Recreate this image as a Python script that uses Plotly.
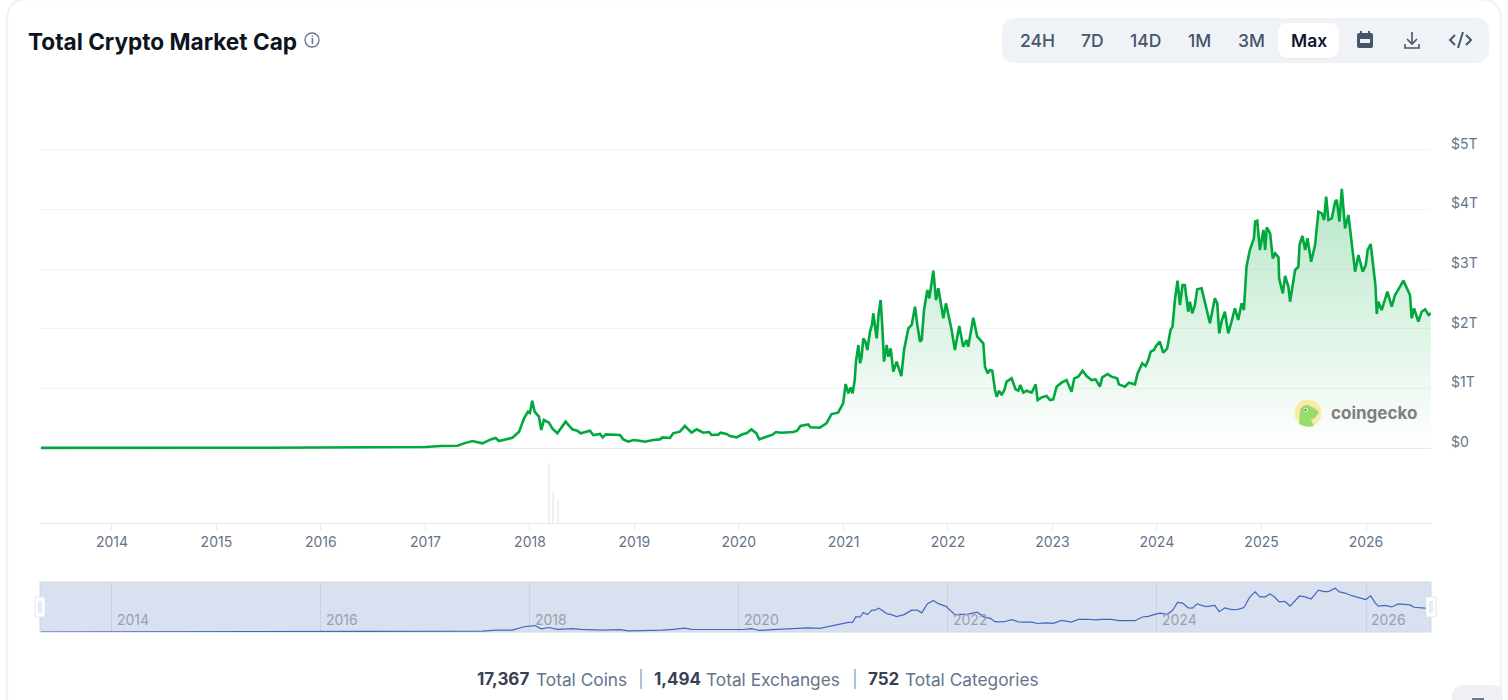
import pandas as pd
import plotly.graph_objects as go

W = 1508
H = 700

# market cap in trillions of USD (x as decimal years)
years_to_2018 = [2013.32, 2013.6, 2013.9, 2014.0, 2014.5, 2015.0, 2015.5, 2016.0, 2016.5, 2017.0,
    2017.145, 2017.305, 2017.368, 2017.448, 2017.544, 2017.624, 2017.671, 2017.703, 2017.831, 2017.895,
    2017.943, 2017.981, 2018.0, 2018.022, 2018.045, 2018.086, 2018.108, 2018.134, 2018.182, 2018.214,
    2018.262, 2018.341, 2018.405, 2018.453, 2018.485]
values_to_2018 = [0.002, 0.003, 0.012, 0.011, 0.008, 0.005, 0.005, 0.007, 0.01, 0.018,
    0.034, 0.039, 0.078, 0.117, 0.078, 0.145, 0.168, 0.117, 0.173, 0.274,
    0.498, 0.61, 0.59, 0.794, 0.61, 0.526, 0.302, 0.47, 0.425, 0.33,
    0.246, 0.442, 0.313, 0.291, 0.246]

years_to_2020 = [2018.574, 2018.606, 2018.67, 2018.695, 2018.727, 2018.861, 2018.893, 2018.941, 2018.989, 2019.052,
    2019.1, 2019.18, 2019.244, 2019.269, 2019.34, 2019.371, 2019.435, 2019.483, 2019.515, 2019.547,
    2019.595, 2019.659, 2019.716, 2019.738, 2019.802, 2019.824, 2019.882, 2019.914, 2019.977, 2020.041,
    2020.073, 2020.121, 2020.169, 2020.195, 2020.265, 2020.322, 2020.354, 2020.408, 2020.52, 2020.558,
    2020.59, 2020.663, 2020.686, 2020.775, 2020.838, 2020.887, 2020.95]
values_to_2020 = [0.291, 0.218, 0.235, 0.179, 0.229, 0.218, 0.145, 0.106, 0.134, 0.123,
    0.106, 0.134, 0.145, 0.179, 0.168, 0.246, 0.274, 0.369, 0.313, 0.257,
    0.313, 0.257, 0.268, 0.218, 0.224, 0.257, 0.235, 0.201, 0.179, 0.235,
    0.246, 0.313, 0.246, 0.145, 0.19, 0.224, 0.268, 0.257, 0.268, 0.291,
    0.369, 0.397, 0.347, 0.341, 0.414, 0.57, 0.593]

years_to_2022 = [2020.998, 2021.02, 2021.046, 2021.068, 2021.087, 2021.107, 2021.119, 2021.142,
    2021.158, 2021.173, 2021.189, 2021.209, 2021.228, 2021.253, 2021.272, 2021.285, 2021.301, 2021.317,
    2021.336, 2021.355, 2021.371, 2021.387, 2021.413, 2021.429, 2021.451, 2021.476, 2021.508, 2021.553,
    2021.579, 2021.62, 2021.652, 2021.684, 2021.706, 2021.732, 2021.748, 2021.77, 2021.802, 2021.821,
    2021.859, 2021.885, 2021.907, 2021.955, 2021.98, 2022.035, 2022.066, 2022.108, 2022.146, 2022.178,
    2022.194, 2022.242, 2022.28, 2022.338]
values_to_2022 = [0.749, 1.074, 0.917, 1.018, 0.917, 1.141, 1.449, 1.728,
    1.421, 1.532, 1.84, 1.784, 1.644, 1.952, 2.064, 2.26, 2.064, 1.84,
    2.26, 2.483, 2.036, 1.449, 1.728, 1.532, 1.672, 1.281, 1.449, 1.208,
    1.644, 2.008, 2.064, 2.371, 2.064, 1.784, 1.812, 2.315, 2.651, 2.511,
    2.975, 2.483, 2.679, 2.176, 2.427, 1.98, 1.644, 2.047, 1.7, 1.812,
    1.7, 2.187, 1.868, 1.756]

years_to_2023 = [2022.354, 2022.38, 2022.402, 2022.424, 2022.45, 2022.466, 2022.488, 2022.513, 2022.539, 2022.561,
    2022.609, 2022.647, 2022.673, 2022.692, 2022.721, 2022.753, 2022.801, 2022.839, 2022.858, 2022.896,
    2022.944, 2022.976, 2023.008, 2023.04, 2023.088, 2023.135, 2023.183, 2023.209, 2023.247, 2023.289,
    2023.327, 2023.375, 2023.413, 2023.454, 2023.477, 2023.528, 2023.566, 2023.62, 2023.636, 2023.694,
    2023.732, 2023.758, 2023.79, 2023.815, 2023.86, 2023.892, 2023.917, 2023.94]
values_to_2023 = [1.365, 1.253, 1.309, 1.298, 0.973, 0.861, 0.962, 0.889, 0.973, 1.113,
    1.169, 0.984, 0.962, 1.057, 0.928, 0.962, 0.928, 1.068, 0.805, 0.85,
    0.872, 0.805, 0.817, 1.029, 1.096, 1.141, 0.945, 1.169, 1.197, 1.298,
    1.208, 1.141, 1.152, 1.029, 1.186, 1.242, 1.197, 1.169, 1.068, 1.029,
    1.096, 1.085, 1.068, 1.253, 1.421, 1.376, 1.476, 1.616]

years_to_2026 = [2023.972, 2023.991, 2024.029, 2024.061, 2024.099, 2024.131, 2024.15, 2024.173, 2024.198,
    2024.221, 2024.246, 2024.268, 2024.3, 2024.316, 2024.339, 2024.364, 2024.386, 2024.428, 2024.469,
    2024.508, 2024.555, 2024.578, 2024.597, 2024.619, 2024.651, 2024.683, 2024.715, 2024.747, 2024.779,
    2024.811, 2024.833, 2024.858, 2024.89, 2024.929, 2024.941, 2024.961, 2024.986, 2025.018, 2025.034,
    2025.05, 2025.082, 2025.107, 2025.13, 2025.162, 2025.168, 2025.203, 2025.225, 2025.257, 2025.273,
    2025.299, 2025.321, 2025.353, 2025.363, 2025.391, 2025.417, 2025.439, 2025.474, 2025.512, 2025.544,
    2025.576, 2025.599, 2025.618, 2025.64, 2025.672, 2025.704, 2025.72, 2025.745, 2025.768, 2025.799,
    2025.831, 2025.863, 2025.895, 2025.927, 2025.968, 2025.997, 2026.016, 2026.045, 2026.071, 2026.09,
    2026.103, 2026.118, 2026.15, 2026.182, 2026.205, 2026.246, 2026.278, 2026.31, 2026.358, 2026.421,
    2026.437, 2026.46, 2026.501, 2026.533, 2026.565, 2026.6, 2026.62]
values_to_2026 = [1.644, 1.711, 1.784, 1.6, 1.672, 1.98, 2.036, 2.483, 2.808,
    2.399, 2.735, 2.735, 2.287, 2.455, 2.26, 2.399, 2.662, 2.679, 2.399,
    2.092, 2.511, 2.427, 1.924, 2.12, 2.287, 1.924, 2.12, 2.343, 2.148,
    2.427, 2.315, 3.043, 3.322, 3.518, 3.797, 3.814, 3.322, 3.658, 3.322,
    3.702, 3.602, 3.182, 3.266, 3.199, 2.847, 2.595, 2.886, 2.707, 2.455,
    2.735, 2.987, 3.043, 3.406, 3.557, 3.322, 3.518, 3.126, 3.406, 3.965,
    3.937, 3.826, 4.217, 3.826, 3.853, 4.133, 4.161, 3.797, 4.346, 3.686,
    3.909, 3.434, 2.959, 3.238, 2.959, 3.07, 3.322, 3.423, 3.07, 2.735,
    2.248, 2.455, 2.315, 2.511, 2.623, 2.371, 2.567, 2.662, 2.808, 2.567,
    2.176, 2.343, 2.12, 2.287, 2.327, 2.232, 2.26]

cap_years = years_to_2018 + years_to_2020 + years_to_2022 + years_to_2023 + years_to_2026
cap_values = values_to_2018 + values_to_2020 + values_to_2022 + values_to_2023 + values_to_2026

# the three faint volume spikes under the chart (relative height)
volume_dates = ["2018-03-10", "2018-03-22", "2018-04-08"]
volume_values = [1.0, 0.52, 0.38]

y_ticks = [0, 1, 2, 3, 4, 5]
y_labels = ["$0", "$1T", "$2T", "$3T", "$4T", "$5T"]
nav_years = [2014, 2016, 2018, 2020, 2022, 2024, 2026]

range_labels = ["24H", "7D", "14D", "1M", "3M", "Max"]
range_x = [1037, 1092, 1145, 1199, 1251, 1309]

stat_values = ["17,367", "1,494", "752"]
stat_names = ["Total Coins", "Total Exchanges", "Total Categories"]
stat_value_x = [476, 653, 867]
stat_name_x = [535, 705, 904]
stat_rule_x = [641, 855]
stat_rule_colors = ["#7f9dc4", "#7f9dc4"]

FONT = "Inter"
SLATE = "#64748b"


def year_to_date(y):
    yr = int(y)
    return pd.Timestamp(yr, 1, 1) + pd.Timedelta(days=(y - yr) * 365.25)


def px_x(x):
    return x / W


def px_y(y):
    return 1 - y / H


def pt(x, y):
    return f"{px_x(x):.5f},{px_y(y):.5f}"


def round_rect(x0, y0, x1, y1, r):
    return (f"M{pt(x0 + r, y0)} L{pt(x1 - r, y0)} Q{pt(x1, y0)} {pt(x1, y0 + r)} "
            f"L{pt(x1, y1 - r)} Q{pt(x1, y1)} {pt(x1 - r, y1)} L{pt(x0 + r, y1)} "
            f"Q{pt(x0, y1)} {pt(x0, y1 - r)} L{pt(x0, y0 + r)} Q{pt(x0, y0)} {pt(x0 + r, y0)} Z")


def box(x0, y0, x1, y1, r, fill, line=None, width=1):
    return dict(type="path", xref="paper", yref="paper", path=round_rect(x0, y0, x1, y1, r),
                fillcolor=fill, line=dict(color=line or fill, width=width if line else 0))


def stroke(points, color, width=2):
    d = "M" + " L".join(pt(x, y) for x, y in points)
    return dict(type="path", xref="paper", yref="paper", path=d, line=dict(color=color, width=width))


def circle(cx, cy, r, fill, line=None, width=1):
    return dict(type="circle", xref="paper", yref="paper", x0=px_x(cx - r), x1=px_x(cx + r),
                y0=px_y(cy + r), y1=px_y(cy - r), fillcolor=fill,
                line=dict(color=line or fill, width=width if line else 0))


def text(x, y, s, size, color, anchor="left", weight=400, family=FONT):
    return dict(xref="paper", yref="paper", x=px_x(x), y=px_y(y), text=s, showarrow=False,
                xanchor=anchor, yanchor="middle", borderpad=0,
                font=dict(family=family, size=size, color=color, weight=weight))


cap_dates = [year_to_date(y) for y in cap_years]
x_range = [year_to_date(2013.311), year_to_date(2026.622)]

fig = go.Figure()

# price line with gradient fill
fig.add_trace(go.Scatter(x=cap_dates, y=cap_values, xaxis="x", yaxis="y", mode="lines",
                         line=dict(color="#00a83e", width=2.6), fill="tozeroy",
                         fillgradient=dict(type="vertical",
                                           colorscale=[[0, "rgba(0,168,62,0)"], [1, "rgba(0,168,62,0.28)"]]),
                         hoverinfo="skip", showlegend=False))

# volume spikes
fig.add_trace(go.Bar(x=pd.to_datetime(volume_dates), y=volume_values, xaxis="x", yaxis="y3",
                     marker=dict(color="#eef0f4", line=dict(width=0)), width=1000 * 3600 * 24 * 3,
                     hoverinfo="skip", showlegend=False))

# navigator
fig.add_trace(go.Scatter(x=cap_dates[::2], y=cap_values[::2], xaxis="x2", yaxis="y2", mode="lines",
                         line=dict(color="#4468bd", width=1.2), hoverinfo="skip", showlegend=False))

shapes = []
# card outline
shapes.append(dict(type="path", xref="paper", yref="paper", line=dict(color="#f0f3f7", width=2.5),
                   path=f"M{pt(7, 700)} L{pt(7, 20)} Q{pt(7, -1)} {pt(28, -1)} L{pt(1480, -1)} "
                        f"Q{pt(1501, -1)} {pt(1501, 20)} L{pt(1501, 700)}"))
# navigator background
shapes.append(dict(type="rect", xref="x2 domain", yref="y2 domain", x0=0, x1=1, y0=0, y1=1,
                   fillcolor="#d9e0ef", line=dict(color="#cfd7e6", width=1), layer="below"))
# navigator handles
for hx in [40, 1431]:
    shapes.append(box(hx - 5, 597, hx + 5, 617, 1, "#ffffff", "#dfe5ee", 1))
    shapes.append(stroke([(hx - 1, 601), (hx - 1, 613)], "#cfd7e6", 1))
    shapes.append(stroke([(hx + 1, 601), (hx + 1, 613)], "#cfd7e6", 1))
# toolbar
shapes.append(box(1002, 18, 1489, 63, 14, "#eff2f7"))
shapes.append(box(1278, 24, 1339, 59, 10, "#e6e9ef"))
shapes.append(box(1278, 23, 1339, 58, 10, "#ffffff"))
# calendar icon
shapes.append(box(1357, 33, 1373, 48, 2, "#475569"))
shapes.append(stroke([(1361, 31), (1361, 35)], "#475569", 2))
shapes.append(stroke([(1369, 31), (1369, 35)], "#475569", 2))
shapes.append(box(1360, 39, 1370, 43, 0, "#eff2f7"))
# download icon
shapes.append(stroke([(1412, 32), (1412, 44)], "#475569", 1.6))
shapes.append(stroke([(1407, 39), (1412, 44), (1417, 39)], "#475569", 1.6))
shapes.append(stroke([(1405, 44), (1405, 48), (1419, 48), (1419, 44)], "#475569", 1.6))
# code icon
shapes.append(stroke([(1455, 35), (1450, 40), (1455, 45)], "#475569", 2))
shapes.append(stroke([(1466, 35), (1471, 40), (1466, 45)], "#475569", 2))
shapes.append(stroke([(1463, 32), (1458, 48)], "#475569", 2))
# info icon
shapes.append(circle(312, 40, 7, "#ffffff", "#64748b", 1.3))
# gecko logo
shapes.append(circle(1308, 413, 13.5, "#fbeaa8"))
shapes.append(dict(type="path", xref="paper", yref="paper", fillcolor="#96dd6b", line=dict(width=0),
                   path=f"M{pt(1299, 424)} L{pt(1300, 410)} Q{pt(1302, 405)} {pt(1308, 405)} "
                        f"L{pt(1314, 408)} L{pt(1319, 412)} Q{pt(1317, 417)} {pt(1311, 420)} "
                        f"L{pt(1314, 426)} Q{pt(1306, 428)} {pt(1299, 424)} Z"))
shapes.append(circle(1306, 410, 2, "#e8eee0"))
shapes.append(circle(1305.5, 410, 1, "#5a6a50"))
# footer rules and corner button
for rx, rc in zip(stat_rule_x, stat_rule_colors):
    shapes.append(stroke([(rx, 669), (rx, 689)], rc, 1.3))
shapes.append(box(1452, 685, 1503, 715, 12, "#eef0f3"))
shapes.append(stroke([(1472, 699), (1484, 699)], "#475569", 1.5))

notes = [text(27, 41, "Total Crypto Market Cap", 22.6, "#0d1421", weight=700),
         text(312, 40, "i", 10, "#64748b", "center", 700),
         text(1330, 413, "coingecko", 17, "#7d8080", weight=700)]
for lab, lx in zip(range_labels, range_x):
    if lab == "Max":
        notes.append(text(lx, 40, lab, 17.5, "#0f172a", "center", 600))
    else:
        notes.append(text(lx, 40, lab, 17.5, "#475569", "center", 500))
for v, vx, n, nx in zip(stat_values, stat_value_x, stat_names, stat_name_x):
    notes.append(text(vx, 679, v, 17, "#364152", weight=700))
    notes.append(text(nx, 679, n, 17.3, "#64748b"))
for yr in nav_years:
    notes.append(dict(xref="x2", yref="y2 domain", x=pd.Timestamp(yr, 1, 1), y=0.05, text=str(yr),
                      showarrow=False, xanchor="left", yanchor="bottom", xshift=3,
                      font=dict(family=FONT, size=14, color="#9a9fad")))

fig.update_layout(
    width=W,
    height=H,
    margin=dict(l=0, r=0, t=0, b=0),
    paper_bgcolor="#ffffff",
    plot_bgcolor="#ffffff",
    font=dict(family=FONT),
    showlegend=False,
    shapes=shapes,
    annotations=notes,
    xaxis=dict(domain=[px_x(40), px_x(1431)], range=x_range, anchor="y3", type="date",
               dtick="M12", tick0="2014-01-01", tickformat="%Y", showgrid=False, showline=True,
               linecolor="#e3e8ef", ticks="outside", ticklen=6, tickcolor="#e3e8ef", automargin=False,
               tickfont=dict(family=FONT, size=14, color=SLATE)),
    yaxis=dict(domain=[px_y(451), px_y(147)], range=[-0.05, 5.05], anchor="x", side="right",
               tickvals=y_ticks, ticktext=y_labels, showgrid=True, gridcolor="#f2f4f6", gridwidth=1,
               zeroline=True, zerolinecolor="#e6ebf1", zerolinewidth=1, showline=False, automargin=False,
               ticklabelstandoff=19, ticklabelshift=-6,
               tickfont=dict(family=FONT, size=14, color=SLATE)),
    yaxis3=dict(domain=[px_y(523), px_y(463)], range=[0, 1], anchor="x", visible=False, automargin=False),
    xaxis2=dict(domain=[px_x(40), px_x(1431)], range=x_range, anchor="y2", type="date", automargin=False,
                dtick="M24", tick0="2014-01-01", showgrid=True, gridcolor="#c9d1e0", gridwidth=1,
                showticklabels=False, ticks="", showline=False, zeroline=False),
    yaxis2=dict(domain=[px_y(632), px_y(582)], range=[0, 4.73], anchor="x2", visible=False, automargin=False),
)

fig.write_html("out.html", config=dict(displayModeBar=False),
               post_script="document.body.style.margin='0';document.body.style.overflow='hidden';")
